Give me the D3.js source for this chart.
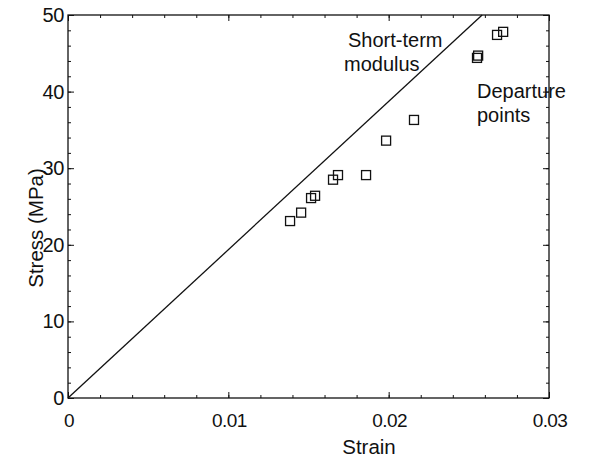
<!DOCTYPE html>
<html>
<head>
<meta charset="utf-8">
<script src="https://cdn.jsdelivr.net/npm/d3@7"></script>
<style>
  html, body { margin: 0; padding: 0; background: #fff; }
  svg text { font-family: "Liberation Sans", Arial, Helvetica, sans-serif; fill: #111; }
</style>
</head>
<body>
<svg id="chart" width="613" height="461"></svg>
<script>
// ---- data ----
const strainValues = [0.01385, 0.01454, 0.01516, 0.01541, 0.01653, 0.01684, 0.01859, 0.01984, 0.02158, 0.02551, 0.02558, 0.02676, 0.02714];
const stressValues = [23.1, 24.2, 26.1, 26.4, 28.5, 29.1, 29.1, 33.6, 36.3, 44.4, 44.7, 47.4, 47.8];
const modulusLineStrain = [0, 0.02583];
const modulusLineStress = [0, 50];
const xTickValues = [0, 0.01, 0.02, 0.03];
const xTickLabels = ["0", "0.01", "0.02", "0.03"];
const yTickValues = [0, 10, 20, 30, 40, 50];
const yTickLabels = ["0", "10", "20", "30", "40", "50"];

const svg = d3.select("#chart");
const pLeft = 68, pRight = 549, pTop = 15, pBottom = 398;

const x = d3.scaleLinear().domain([0, 0.03]).range([pLeft, pRight]);
const y = d3.scaleLinear().domain([0, 50]).range([pBottom, pTop]);

const minorX = d3.range(0, 0.0301, 0.002);
const minorY = d3.range(0, 50.1, 2);

// frame
svg.append("rect").attr("x", pLeft).attr("y", pTop).attr("width", pRight - pLeft).attr("height", pBottom - pTop)
  .attr("fill", "none").attr("stroke", "#111").attr("stroke-width", 1.3);

// axes with inward ticks
function styleAxis(g) {
  g.select(".domain").remove();
  g.selectAll("line").attr("stroke", "#111").attr("stroke-width", 1);
}
function addAxis(axisFn, transform, values, size) {
  svg.append("g").attr("transform", transform)
    .call(axisFn.tickValues(values).tickSize(size).tickFormat(""))
    .call(styleAxis);
}
addAxis(d3.axisTop(x), `translate(0,${pBottom})`, minorX, 3);
addAxis(d3.axisTop(x), `translate(0,${pBottom})`, xTickValues, 6);
addAxis(d3.axisBottom(x), `translate(0,${pTop})`, minorX, 3);
addAxis(d3.axisBottom(x), `translate(0,${pTop})`, xTickValues, 6);
addAxis(d3.axisRight(y), `translate(${pLeft},0)`, minorY, 3);
addAxis(d3.axisRight(y), `translate(${pLeft},0)`, yTickValues, 6);
addAxis(d3.axisLeft(y), `translate(${pRight},0)`, minorY, 3);
addAxis(d3.axisLeft(y), `translate(${pRight},0)`, yTickValues, 6);

// tick labels
svg.append("g").selectAll("text").data(xTickValues).join("text")
  .attr("x", d => x(d) + 1).attr("y", pBottom + 29)
  .attr("text-anchor", "middle").attr("font-size", 19).attr("letter-spacing", -0.6)
  .text((d, i) => xTickLabels[i]);
svg.append("g").selectAll("text").data(yTickValues).join("text")
  .attr("x", pLeft - 4).attr("y", d => y(d) + 7)
  .attr("text-anchor", "end").attr("font-size", 20).attr("letter-spacing", -0.4)
  .text((d, i) => yTickLabels[i]);

// axis titles
svg.append("text").attr("x", 369).attr("y", 454)
  .attr("text-anchor", "middle").attr("font-size", 20.5).text("Strain");
svg.append("text").attr("transform", `translate(43,228) rotate(-90)`)
  .attr("text-anchor", "middle").attr("font-size", 20.5).text("Stress (MPa)");

// modulus line
const line = d3.line().x(d => x(d[0])).y(d => y(d[1]));
svg.append("path")
  .datum(modulusLineStrain.map((s, i) => [s, modulusLineStress[i]]))
  .attr("d", line).attr("fill", "none").attr("stroke", "#111").attr("stroke-width", 1.3);

// points
const sq = 9;
svg.append("g").selectAll("rect").data(strainValues.map((s, i) => [s, stressValues[i]])).join("rect")
  .attr("x", d => x(d[0]) - sq / 2).attr("y", d => y(d[1]) - sq / 2)
  .attr("width", sq).attr("height", sq)
  .attr("fill", "none").attr("stroke", "#111").attr("stroke-width", 1.3);

// annotations
svg.append("text").attr("x", 348).attr("y", 47).attr("font-size", 20).text("Short-term");
svg.append("text").attr("x", 344).attr("y", 71).attr("font-size", 20).text("modulus");
svg.append("text").attr("x", 477).attr("y", 98).attr("font-size", 20).text("Departure");
svg.append("text").attr("x", 477).attr("y", 122).attr("font-size", 20).text("points");
</script>
</body>
</html>
